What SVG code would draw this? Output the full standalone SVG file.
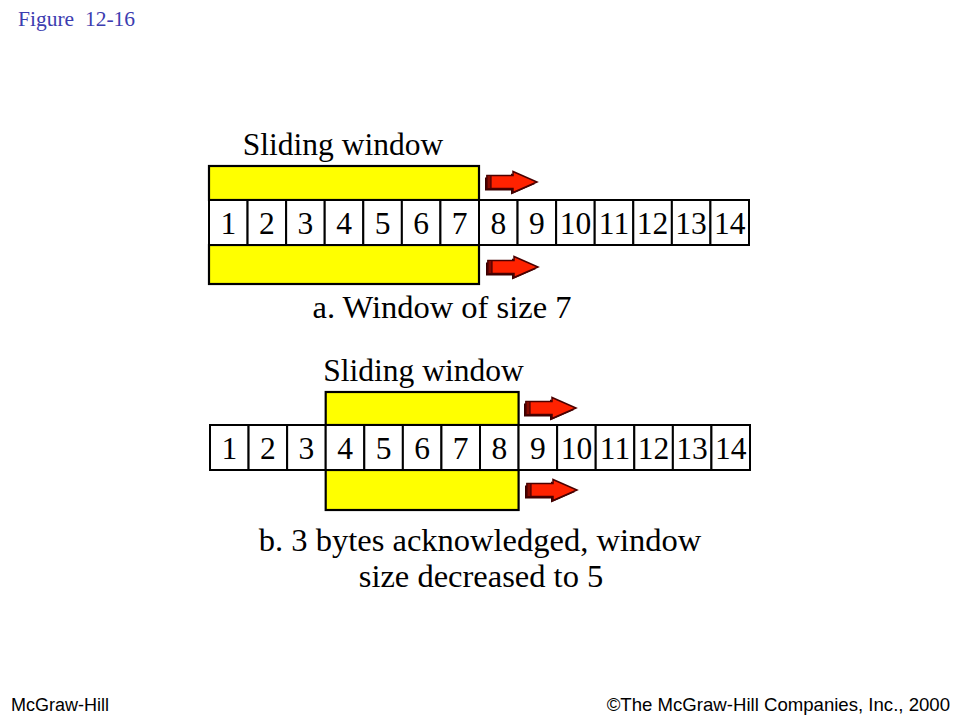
<svg xmlns="http://www.w3.org/2000/svg" xmlns:xlink="http://www.w3.org/1999/xlink" width="960" height="720" viewBox="0 0 960 720">
<style>
.t{font-family:"Liberation Serif","Times New Roman",serif;fill:#000}
.lbl{font-size:31.5px}
.cap{font-size:32.5px}
.num{font-size:31.5px;text-anchor:middle}
.cell{fill:#fff;stroke:#000;stroke-width:2}
.win{fill:#ffff00;stroke:#000;stroke-width:2.2}
.foot{font-family:"Liberation Sans",Arial,sans-serif;font-size:18px;fill:#000}
</style>
<defs>
<g id="arrow">
<polygon points="-2,-4.5 24,-4.5 24,-8.5 48,2 24,12.5 24,8.5 -2,8.5" fill="#3a0000"/>
<polygon points="0,-6.5 26,-6.5 26,-10.5 50,0 26,10.5 26,6.5 0,6.5" fill="#ff2200" stroke="#4a0000" stroke-width="1.5" stroke-linejoin="miter"/>
<polygon points="0,-6.5 4,-6.5 4,6.5 0,6.5" fill="#8a0a00" stroke="#4a0000" stroke-width="1.2"/>
</g>
</defs>
<rect width="960" height="720" fill="#fff"/>
<text x="18" y="26" font-family="'Liberation Serif','Times New Roman',serif" font-size="21.5" fill="#3c3cb0" xml:space="preserve">Figure  12-16</text>

<g id="part-a">
<text class="t lbl" x="343" y="155" text-anchor="middle">Sliding window</text>
<g id="window-a">
<rect class="win" x="209" y="166" width="270" height="34"/>
<rect class="win" x="209" y="245" width="270" height="39"/>
</g>
<g id="cells-a">
<rect class="cell" x="209" y="200" width="38.57" height="45"/>
<rect class="cell" x="247.57" y="200" width="38.57" height="45"/>
<rect class="cell" x="286.14" y="200" width="38.57" height="45"/>
<rect class="cell" x="324.71" y="200" width="38.57" height="45"/>
<rect class="cell" x="363.29" y="200" width="38.57" height="45"/>
<rect class="cell" x="401.86" y="200" width="38.57" height="45"/>
<rect class="cell" x="440.43" y="200" width="38.57" height="45"/>
<rect class="cell" x="479" y="200" width="38.57" height="45"/>
<rect class="cell" x="517.57" y="200" width="38.57" height="45"/>
<rect class="cell" x="556.14" y="200" width="38.57" height="45"/>
<rect class="cell" x="594.71" y="200" width="38.57" height="45"/>
<rect class="cell" x="633.29" y="200" width="38.57" height="45"/>
<rect class="cell" x="671.86" y="200" width="38.57" height="45"/>
<rect class="cell" x="710.43" y="200" width="38.57" height="45"/>
<g class="t num">
<text x="228.3" y="234">1</text>
<text x="266.9" y="234">2</text>
<text x="305.4" y="234">3</text>
<text x="344" y="234">4</text>
<text x="382.6" y="234">5</text>
<text x="421.1" y="234">6</text>
<text x="459.7" y="234">7</text>
<text x="498.3" y="234">8</text>
<text x="536.9" y="234">9</text>
<text x="575.4" y="234">10</text>
<text x="614" y="234">11</text>
<text x="652.6" y="234">12</text>
<text x="691.1" y="234">13</text>
<text x="729.7" y="234">14</text>
</g>
</g>
<use xlink:href="#arrow" x="487" y="182"/>
<use xlink:href="#arrow" x="488" y="267"/>
<text class="t cap" x="442" y="318" text-anchor="middle">a. Window of size 7</text>
</g>

<g id="part-b">
<text class="t lbl" x="423.5" y="381" text-anchor="middle">Sliding window</text>
<g id="window-b">
<rect class="win" x="325.7" y="392" width="192.9" height="33"/>
<rect class="win" x="325.7" y="470" width="192.9" height="40"/>
</g>
<g id="cells-b">
<rect class="cell" x="210" y="425" width="38.57" height="45"/>
<rect class="cell" x="248.57" y="425" width="38.57" height="45"/>
<rect class="cell" x="287.14" y="425" width="38.57" height="45"/>
<rect class="cell" x="325.71" y="425" width="38.57" height="45"/>
<rect class="cell" x="364.29" y="425" width="38.57" height="45"/>
<rect class="cell" x="402.86" y="425" width="38.57" height="45"/>
<rect class="cell" x="441.43" y="425" width="38.57" height="45"/>
<rect class="cell" x="480" y="425" width="38.57" height="45"/>
<rect class="cell" x="518.57" y="425" width="38.57" height="45"/>
<rect class="cell" x="557.14" y="425" width="38.57" height="45"/>
<rect class="cell" x="595.71" y="425" width="38.57" height="45"/>
<rect class="cell" x="634.29" y="425" width="38.57" height="45"/>
<rect class="cell" x="672.86" y="425" width="38.57" height="45"/>
<rect class="cell" x="711.43" y="425" width="38.57" height="45"/>
<g class="t num">
<text x="229.3" y="459">1</text>
<text x="267.9" y="459">2</text>
<text x="306.4" y="459">3</text>
<text x="345" y="459">4</text>
<text x="383.6" y="459">5</text>
<text x="422.1" y="459">6</text>
<text x="460.7" y="459">7</text>
<text x="499.3" y="459">8</text>
<text x="537.9" y="459">9</text>
<text x="576.4" y="459">10</text>
<text x="615" y="459">11</text>
<text x="653.6" y="459">12</text>
<text x="692.1" y="459">13</text>
<text x="730.7" y="459">14</text>
</g>
</g>
<use xlink:href="#arrow" x="526" y="408"/>
<use xlink:href="#arrow" x="527" y="490"/>
<text class="t cap" x="480" y="551" text-anchor="middle">b. 3 bytes acknowledged, window</text>
<text class="t cap" x="481" y="587" text-anchor="middle">size decreased to 5</text>
</g>

<text class="foot" x="11" y="711">McGraw-Hill</text>
<text class="foot" x="950" y="711" text-anchor="end" style="font-size:18.6px">©The McGraw-Hill Companies, Inc., 2000</text>
</svg>
